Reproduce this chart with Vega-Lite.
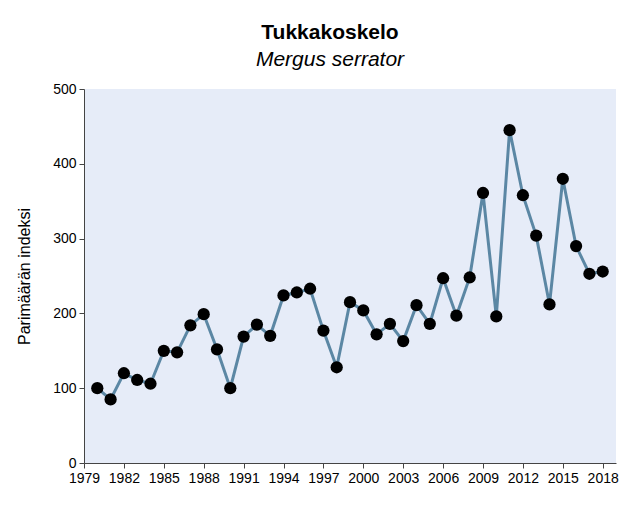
{
  "$schema": "https://vega.github.io/schema/vega-lite/v6.json",
  "width": 532,
  "height": 374,
  "autosize": {"type": "none"},
  "padding": {"left": 84, "top": 89, "right": 12, "bottom": 50},
  "background": "white",
  "title": {
    "text": "Tukkakoskelo",
    "subtitle": "Mergus serrator",
    "anchor": "middle",
    "dx": -20,
    "offset": 12,
    "font": "Liberation Sans",
    "fontSize": 21,
    "fontWeight": "bold",
    "color": "#000000",
    "subtitleFont": "Liberation Sans",
    "subtitleFontSize": 21,
    "subtitleFontStyle": "italic",
    "subtitleColor": "#000000",
    "subtitlePadding": 6
  },
  "data": {
    "values": [
      {"year": 1980, "index": 100},
      {"year": 1981, "index": 85},
      {"year": 1982, "index": 120},
      {"year": 1983, "index": 111},
      {"year": 1984, "index": 106},
      {"year": 1985, "index": 150},
      {"year": 1986, "index": 148},
      {"year": 1987, "index": 184},
      {"year": 1988, "index": 199},
      {"year": 1989, "index": 152},
      {"year": 1990, "index": 100},
      {"year": 1991, "index": 169},
      {"year": 1992, "index": 185},
      {"year": 1993, "index": 170},
      {"year": 1994, "index": 224},
      {"year": 1995, "index": 228},
      {"year": 1996, "index": 233},
      {"year": 1997, "index": 177},
      {"year": 1998, "index": 128},
      {"year": 1999, "index": 215},
      {"year": 2000, "index": 204},
      {"year": 2001, "index": 172},
      {"year": 2002, "index": 186},
      {"year": 2003, "index": 163},
      {"year": 2004, "index": 211},
      {"year": 2005, "index": 186},
      {"year": 2006, "index": 247},
      {"year": 2007, "index": 197},
      {"year": 2008, "index": 248},
      {"year": 2009, "index": 361},
      {"year": 2010, "index": 196},
      {"year": 2011, "index": 445},
      {"year": 2012, "index": 358},
      {"year": 2013, "index": 304},
      {"year": 2014, "index": 212},
      {"year": 2015, "index": 380},
      {"year": 2016, "index": 290},
      {"year": 2017, "index": 253},
      {"year": 2018, "index": 256}
    ]
  },
  "encoding": {
    "x": {
      "field": "year",
      "type": "quantitative",
      "scale": {"domain": [1979, 2019], "nice": false, "zero": false},
      "axis": {
        "values": [1979, 1982, 1985, 1988, 1991, 1994, 1997, 2000, 2003, 2006, 2009, 2012, 2015, 2018],
        "format": "d",
        "title": null,
        "grid": false,
        "labelFont": "Liberation Sans",
        "labelFontSize": 14,
        "labelColor": "#000000",
        "labelPadding": 3,
        "tickSize": 5,
        "tickColor": "#444444",
        "domainColor": "#444444",
        "labelFlush": false,
        "labelOverlap": false
      }
    },
    "y": {
      "field": "index",
      "type": "quantitative",
      "scale": {"domain": [0, 500], "nice": false},
      "axis": {
        "values": [0, 100, 200, 300, 400, 500],
        "title": "Parimäärän indeksi",
        "titleFont": "Liberation Sans",
        "titleFontSize": 16,
        "titleFontWeight": "normal",
        "titleColor": "#000000",
        "titlePadding": 20,
        "grid": false,
        "labelFont": "Liberation Sans",
        "labelFontSize": 14,
        "labelColor": "#000000",
        "labelPadding": 3,
        "tickSize": 5,
        "tickColor": "#444444",
        "domainColor": "#444444"
      }
    }
  },
  "layer": [
    {"mark": {"type": "line", "color": "#5B87A4", "strokeWidth": 3}},
    {"mark": {"type": "circle", "color": "#000000", "opacity": 1, "size": 150}}
  ],
  "config": {
    "view": {"fill": "#E6ECF8", "stroke": null}
  }
}
